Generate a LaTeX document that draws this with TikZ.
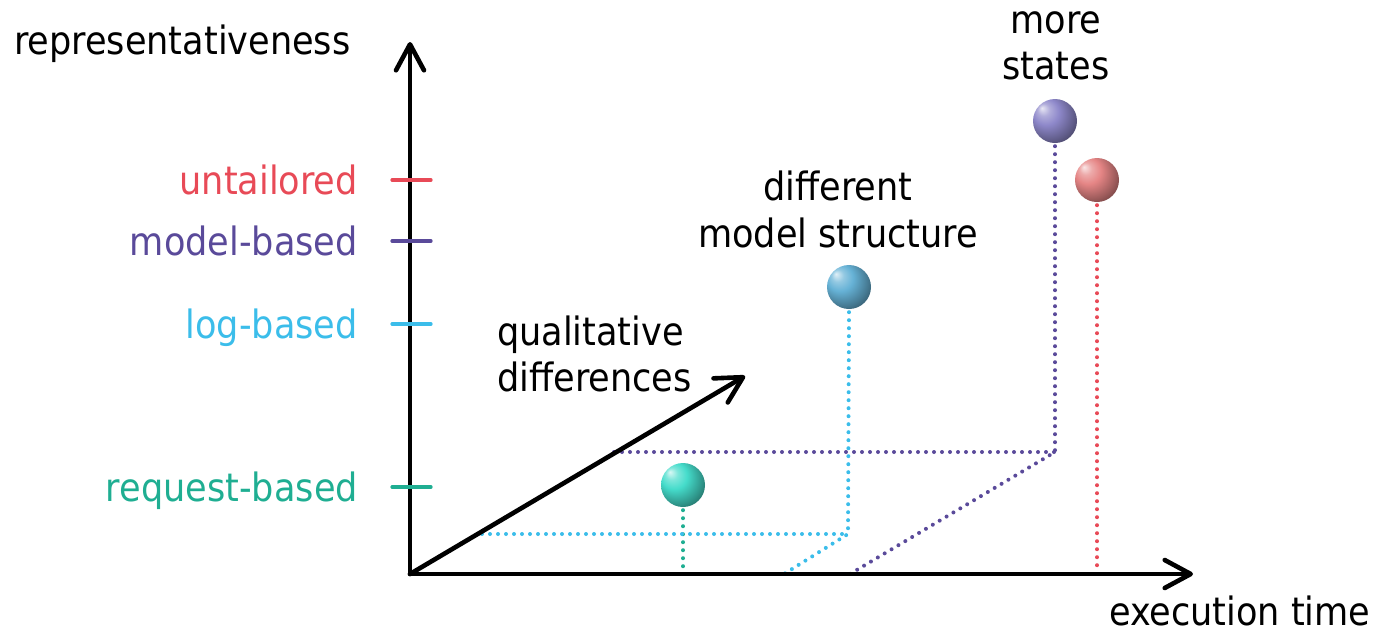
\documentclass[tikz,border=0pt]{standalone}
\usepackage{fontspec}
\setmainfont{DejaVu Sans Condensed}
\usetikzlibrary{arrows.meta}
\definecolor{cred}{HTML}{E84A57}
\definecolor{cpurple}{HTML}{5A4A9A}
\definecolor{cblue}{HTML}{3BBDEA}
\definecolor{cteal}{HTML}{1FAE92}
\definecolor{sred}{HTML}{E58585}
\definecolor{spurple}{HTML}{8E88CA}
\definecolor{sblue}{HTML}{66B2D6}
\definecolor{steal}{HTML}{45DCCB}
\colorlet{ballc}{gray}
\pgfdeclareradialshading[ballc]{myball}{\pgfqpoint{-15bp}{15bp}}{%
  color(0bp)=(ballc!20!white); color(7bp)=(ballc!70!white);
  color(15bp)=(ballc); color(28bp)=(ballc!68!black);
  color(40bp)=(ballc!35!black); color(50bp)=(ballc!15!black)}
\begin{document}
\begin{tikzpicture}[x=1pt,y=-1pt,
  font=\fontsize{39}{40}\selectfont,
  lbl/.style={inner sep=0pt},
  axis/.style={line width=4.6pt, line cap=round,
    -{Straight Barb[length=26pt,width=28pt,round]}},
  tick/.style={line width=3.2pt, line cap=round},
  dots/.style={line width=4pt, line cap=round, dash pattern=on 0pt off 8pt},
  sphere/.style={circle, minimum size=44pt, inner sep=0pt,
    /utils/exec={\colorlet{ballc}{#1}}, shading=myball}]
\useasboundingbox (0,0) rectangle (1381,633);
% coordinates
\coordinate (O) at (410,574);
\coordinate (ytop) at (410,42);
\coordinate (xend) at (1193,574);
\coordinate (dend) at (745,376);
\coordinate (t1) at (683,572);
\coordinate (b0) at (482,534);
\coordinate (b1) at (848,534);
\coordinate (b2) at (784,574);
\coordinate (p0) at (614,452);
\coordinate (p1) at (1055,452);
\coordinate (p2) at (850,574);
\coordinate (r1) at (1097,572);
% spheres
\node[sphere=steal] (s1) at (683,485) {};
\node[sphere=sblue] (s2) at (849,287) {};
\node[sphere=spurple] (s3) at (1055,121) {};
\node[sphere=sred] (s4) at (1097,180) {};
% dotted guide lines
\draw[dots,cteal] ([yshift=-3pt]s1.south) -- (t1);
\draw[dots,cblue] (b0) -- (b1);
\draw[dots,cblue] ([yshift=-3pt]s2.south) -- (b1) -- (b2);
\draw[dots,cpurple] (p0) -- (p1);
\draw[dots,cpurple] ([yshift=-3pt]s3.south) -- (p1) -- (p2);
\draw[dots,cred] ([yshift=-3pt]s4.south) -- (r1);
% axes
\draw[axis] (O) -- (ytop);
\draw[axis] (O) -- (xend);
\draw[axis] (O) -- (dend);
% ticks
\draw[tick,cred] (392,180) -- (431,180);
\draw[tick,cpurple] (392,241) -- (431,241);
\draw[tick,cblue] (392,324) -- (431,324);
\draw[tick,cteal] (392,487) -- (431,487);
% labels
\node[lbl,anchor=base west] (lrep) at (14,54) {representativeness};
\node[lbl,anchor=base east,text=cred] (lunt) at (358,194) {untailored};
\node[lbl,anchor=base east,text=cpurple] (lmod) at (358,255) {model-based};
\node[lbl,anchor=base east,text=cblue] (llog) at (358,338) {log-based};
\node[lbl,anchor=base east,text=cteal] (lreq) at (358,501) {request-based};
\node[lbl,anchor=base west] (lq1) at (497,345) {qualitative};
\node[lbl,anchor=base west] (lq2) at (497,391) {differences};
\node[lbl,anchor=base] (ld1) at (838,200) {different};
\node[lbl,anchor=base] (ld2) at (838,247) {model structure};
\node[lbl,anchor=base] (lm1) at (1056,33) {more};
\node[lbl,anchor=base] (lm2) at (1056,79) {states};
\node[lbl,anchor=base west] (lex) at (1109,625) {execution time};
\end{tikzpicture}
\end{document}
